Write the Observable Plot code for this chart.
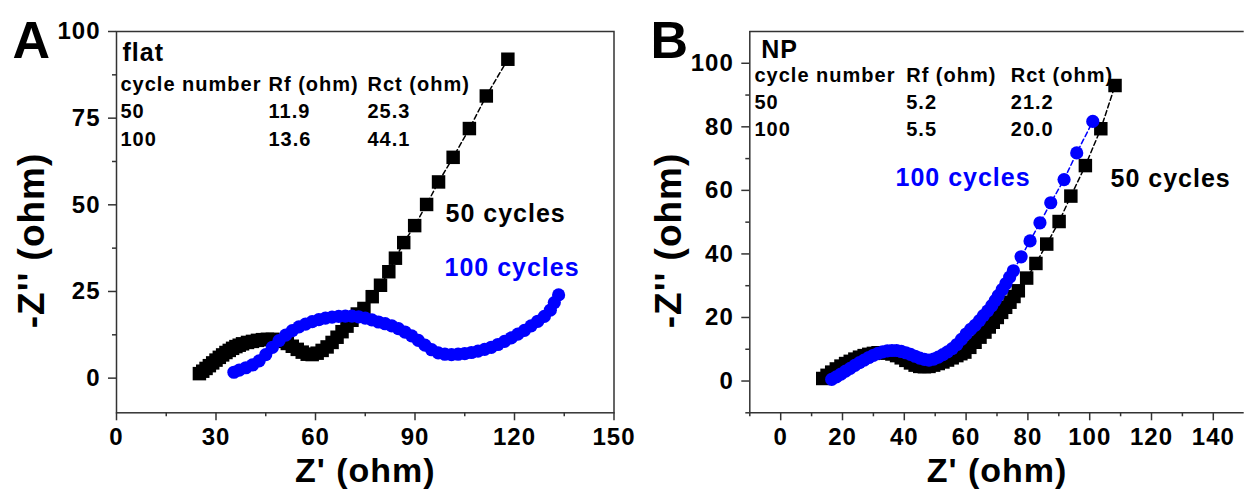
<!DOCTYPE html>
<html><head><meta charset="utf-8">
<script src="https://cdn.jsdelivr.net/npm/d3@7"></script>
<script src="https://cdn.jsdelivr.net/npm/@observablehq/plot@0.6"></script>
<style>
html,body{margin:0;padding:0;background:#fff;}
#wrap{position:relative;width:1244px;height:491px;overflow:hidden;background:#fff;}
#wrap svg{position:absolute;top:0;}
#wrap text{letter-spacing:1px;}
#wrap g[aria-label="table"] text{letter-spacing:0.2px;}
#wrap g[aria-label="ytitle"] text{letter-spacing:1.5px;}
#wrap g[aria-label="xtitle"] text{letter-spacing:1.8px;}
</style></head><body><div id="wrap"></div>
<script>
// ---------- Panel A (flat) ----------
const flat50 = [[25.0,1.3],[26,2.0],[27,2.8],[28,3.6],[29,4.4],[30,5.2],[31,6.0],[32,6.7],[33,7.4],[34,8.0],[35,8.6],[36,9.1],[37,9.5],[38,9.9],[39.5,10.3],[41,10.6],[42.5,10.9],[44,11.1],[45.5,11.2],[47,11.2],[48.5,11.0],[50,10.6],[51.5,10.0],[53,9.2],[54.5,8.3],[56,7.5],[57.5,6.9],[59,6.8],[60.5,7.2],[62,8.0],[63.5,9.0],[65,10.3],[66.5,11.8],[68,13.4],[69.5,15.0],[71,16.7],[72.6,18.5],[74.6,20.1],[77.1,23.5],[79.6,26.8],[82.1,30.7],[84.1,34.6],[86.6,39.1],[89.9,44.0],[93.5,50.1],[97.1,56.6],[101.5,63.7],[106.4,72.0],[111.5,81.4],[118.0,92.0]];
const flat100 = [[35.4,1.7],[37,2.3],[39,3.0],[41,3.8],[43,5.0],[45,6.8],[47,8.9],[49,10.8],[51,12.4],[53,13.7],[55,14.8],[57,15.6],[59,16.3],[61,16.9],[63,17.3],[65,17.6],[67,17.8],[69,17.9],[71,17.9],[73,17.7],[75,17.3],[77,16.8],[79,16.2],[81,15.7],[83,15.1],[85,14.3],[87,13.3],[89,12.2],[91,10.9],[93,9.5],[95,8.2],[97,7.3],[99,6.9],[101,6.8],[103,6.9],[105,7.1],[107,7.4],[109,7.8],[111,8.3],[113,8.9],[115,9.7],[117,10.6],[119,11.6],[121,12.7],[123,13.8],[125,15.1],[127,16.4],[129,17.8],[130.8,19.6],[132,21.8],[133.3,24.0]];
const xTicksA = [0,30,60,90,120,150];
const xMinorA = [15,45,75,105,135];
const yTicksA = [0,25,50,75,100];
const yMinorA = [12.5,37.5,62.5,87.5];
const xDomainA = [0,150];
const yDomainA = [-10,100];
const flatTitle = "flat";
const tableHeader = ["cycle number","Rf (ohm)","Rct (ohm)"];
const flatRows = [["50","11.9","25.3"],["100","13.6","44.1"]];

// ---------- Panel B (NP) ----------
const np50 = [[13.6,0.8],[15,1.8],[16.5,2.8],[18,3.8],[19.5,4.7],[21,5.5],[22.5,6.2],[24,6.9],[25.5,7.5],[27,8.0],[28.5,8.4],[30,8.7],[31.5,8.9],[33,8.9],[34.5,8.8],[36,8.5],[37.5,8.0],[39,7.3],[40.5,6.5],[42,5.7],[43.5,5.0],[45,4.6],[46.5,4.5],[48,4.6],[49.5,5.0],[51,5.5],[52.5,6.0],[54,6.6],[55.5,7.3],[57,8.0],[58.3,8.6],[59.6,9.1],[61.2,10.6],[62.9,12.2],[64.5,13.8],[66.1,15.4],[67.5,17.0],[68.8,18.5],[70.1,20.0],[71.5,21.6],[72.8,23.2],[74.2,24.8],[75.5,26.6],[76.9,28.4],[79.6,32.4],[82.6,37.0],[86.1,43.1],[90.1,50.2],[93.9,58.2],[98.6,67.8],[103.6,79.4],[108.2,93.0]];
const np100 = [[16.5,0.5],[18,1.3],[19.5,2.2],[21,3.1],[22.5,4.0],[24,4.9],[25.5,5.8],[27,6.6],[28.5,7.4],[30,8.1],[31.5,8.7],[33,9.2],[34.5,9.5],[36,9.6],[37.5,9.6],[39,9.3],[40.5,8.9],[42,8.4],[43.5,7.8],[45,7.2],[46.5,6.8],[48,6.6],[49.5,6.9],[51,7.5],[52.5,8.3],[54,9.2],[55.5,10.2],[57,11.5],[58.5,13.1],[60,14.8],[61.5,16.3],[62.9,17.5],[64.3,19.0],[65.6,20.6],[67,22.1],[68.3,23.7],[69.4,25.3],[70.4,26.9],[71.7,28.8],[72.9,30.7],[74.1,32.7],[75.3,34.7],[77.8,39.1],[80.7,44.1],[83.9,49.8],[87.4,56.1],[91.7,63.4],[95.8,71.8],[101.0,81.7]];
const xTicksB = [0,20,40,60,80,100,120,140];
const xMinorB = [-10,10,30,50,70,90,110,130];
const yTicksB = [0,20,40,60,80,100];
const yMinorB = [-10,10,30,50,70,90];
const xDomainB = [-10,150];
const yDomainB = [-10,110];
const npTitle = "NP";
const npRows = [["50","5.2","21.2"],["100","5.5","20.0"]];

const seriesLabels = ["50 cycles","100 cycles"];
const xTitle = "Z' (ohm)";
const yTitle = "-Z'' (ohm)";
const panelLetters = ["A","B"];

const AX = "#333";
const BLUE = "#0000ff";
const FONT = "'Liberation Sans', Arial, Helvetica, sans-serif";

function txt(s, o) {
  return Plot.text([s], Object.assign({text: d => d, fill: "black", fontWeight: "bold", lineAnchor: "bottom", textAnchor: "start"}, o));
}

function axes(xT, xM, yT, yM) {
  return [
    Plot.axisY({ticks: yM, tickSize: 4, tickFormat: () => "", stroke: AX, strokeWidth: 1.5, label: null}),
    Plot.axisY({ticks: yT, tickSize: 8, tickPadding: 8, fontSize: 24, fontWeight: "bold", fill: "black", stroke: AX, strokeWidth: 1.5, label: null}),
    Plot.axisX({ticks: xM, tickSize: 4, tickFormat: () => "", stroke: AX, strokeWidth: 1.5, label: null}),
    Plot.axisX({ticks: xT, tickSize: 8, tickPadding: 7, fontSize: 24, fontWeight: "bold", fill: "black", stroke: AX, strokeWidth: 1.5, label: null})
  ];
}

function table(title, rows, cols, dys, titleDx, titleDy) {
  const m = [txt(title, {frameAnchor: "top-left", dx: titleDx, dy: titleDy, fontSize: 25})];
  const all = [tableHeader, ...rows];
  all.forEach((r, i) => r.forEach((c, j) => {
    m.push(txt(c, {frameAnchor: "top-left", dx: cols[j], dy: dys[i], fontSize: 20, ariaLabel: "table"}));
  }));
  return m;
}

function series(d50, d100) {
  return [
    Plot.line(d50, {x: d => d[0], y: d => d[1], stroke: "black", strokeWidth: 1.5, strokeDasharray: "5,3"}),
    Plot.dot(d50, {x: d => d[0], y: d => d[1], symbol: "square", r: 7.6, fill: "black", stroke: null}),
    Plot.line(d100, {x: d => d[0], y: d => d[1], stroke: BLUE, strokeWidth: 1.5, strokeDasharray: "5,3"}),
    Plot.dot(d100, {x: d => d[0], y: d => d[1], symbol: "circle", r: 6.6, fill: BLUE, stroke: null})
  ];
}

const style = {fontFamily: FONT, background: "white", color: "black", overflow: "visible"};

const A = Plot.plot({
  width: 640, height: 491,
  marginTop: 31, marginLeft: 116, marginRight: 26.5, marginBottom: 78.7,
  x: {domain: xDomainA, label: null}, y: {domain: yDomainA, label: null},
  style,
  marks: [
    Plot.frame({stroke: AX, strokeWidth: 1.5}),
    ...axes(xTicksA, xMinorA, yTicksA, yMinorA),
    ...series(flat50, flat100),
    ...table(flatTitle, flatRows, [4, 152, 251], [59, 86, 114], 6, 29),
    txt(seriesLabels[0], {frameAnchor: "top-left", dx: 329, dy: 190.7, fontSize: 25}),
    txt(seriesLabels[1], {frameAnchor: "top-left", dx: 328, dy: 244, fontSize: 25, fill: BLUE}),
    txt(xTitle, {frameAnchor: "bottom", dy: 69, fontSize: 34, textAnchor: "middle", ariaLabel: "xtitle"}),
    txt(yTitle, {frameAnchor: "left", dx: -73, dy: 18.3, rotate: -90, fontSize: 37, textAnchor: "middle", ariaLabel: "ytitle"}),
    txt(panelLetters[0], {frameAnchor: "top-left", dx: -104, dy: 26, fontSize: 52})
  ]
});
A.style.left = "0px";

const B = Plot.plot({
  width: 612, height: 491,
  marginTop: 31, marginLeft: 109.3, marginRight: 8.3, marginBottom: 78.7,
  x: {domain: xDomainB, label: null}, y: {domain: yDomainB, label: null},
  style,
  marks: [
    Plot.ruleY([yDomainB[1]], {stroke: AX, strokeWidth: 1.5}),
    Plot.ruleY([yDomainB[0]], {stroke: AX, strokeWidth: 1.5}),
    Plot.ruleX([xDomainB[0]], {stroke: AX, strokeWidth: 1.5}),
    ...axes(xTicksB, xMinorB, yTicksB, yMinorB),
    ...series(np50, np100),
    ...table(npTitle, npRows, [4.7, 156.4, 261], [50.5, 77, 104.5], 11.4, 26.5),
    txt(seriesLabels[0], {frameAnchor: "top-left", dx: 360.7, dy: 155.7, fontSize: 25}),
    txt(seriesLabels[1], {frameAnchor: "top-left", dx: 145.7, dy: 154, fontSize: 25, fill: BLUE}),
    txt(xTitle, {frameAnchor: "bottom", dy: 69, fontSize: 34, textAnchor: "middle", ariaLabel: "xtitle"}),
    txt(yTitle, {frameAnchor: "left", dx: -69.3, dy: 18.3, rotate: -90, fontSize: 37, textAnchor: "middle", ariaLabel: "ytitle"}),
    txt(panelLetters[1], {frameAnchor: "top-left", dx: -99.3, dy: 26, fontSize: 52})
  ]
});
B.style.left = "640px";

const wrap = document.getElementById("wrap");
wrap.appendChild(A);
wrap.appendChild(B);
</script>
</body></html>
